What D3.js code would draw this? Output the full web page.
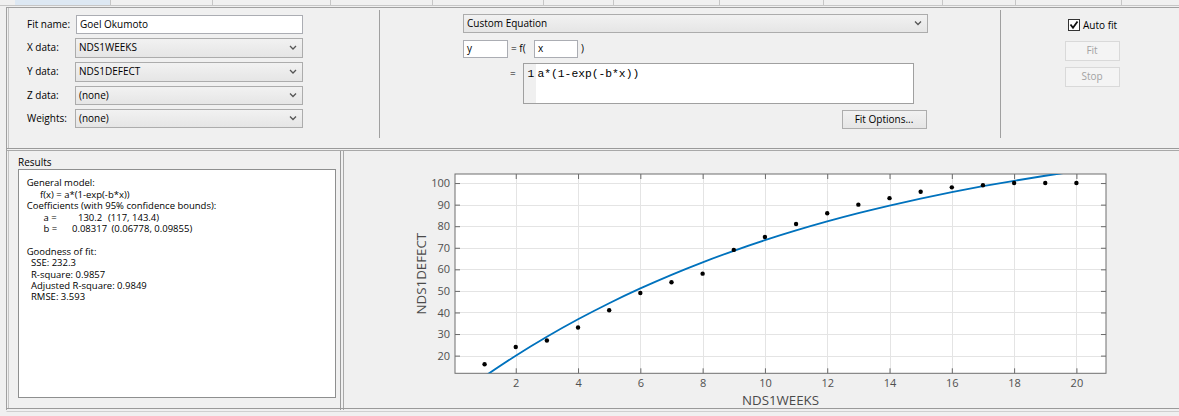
<!DOCTYPE html>
<html><head><meta charset="utf-8">
<script src="https://cdn.jsdelivr.net/npm/d3@7"></script>
<style>
html,body{margin:0;padding:0;background:#f0f0f0;overflow:hidden}
svg{display:block}
text{font-family:"Open Sans","Noto Sans",sans-serif}
</style></head><body>
<svg id="c" width="1179" height="416"></svg>
<script>
// ---------------- data ----------------
const weeks = [1,2,3,4,5,6,7,8,9,10,11,12,13,14,15,16,17,18,19,20];
const defects = [16,24,27,33,41,49,54,58,69,75,81,86,90,93,96,98,99,100,100,100];
// fitted model a*(1-exp(-b*x)), a = 130.2, b = 0.08317, evaluated at each week
const fitValues = [10.39,19.95,28.75,36.84,44.29,51.15,57.46,63.26,68.60,73.52,78.04,82.21,86.04,89.56,92.81,95.79,98.54,101.06,103.39,105.53];
const xTickValues = [2,4,6,8,10,12,14,16,18,20];
const yTickValues = [20,30,40,50,60,70,80,90,100];
const xLabel = "NDS1WEEKS";
const yLabel = "NDS1DEFECT";
const formFields = ["Fit name:", "X data:", "Y data:", "Z data:", "Weights:"];
const formValues = ["Goel Okumoto", "NDS1WEEKS", "NDS1DEFECT", "(none)", "(none)"];
const equationText = "a*(1-exp(-b*x))";
const resultsText = [
  ["General model:", 0], ["f(x) = a*(1-exp(-b*x))", 1], ["Coefficients (with 95% confidence bounds):", 0],
  ["", 2], ["", 3], ["", -1], ["Goodness of fit:", 0], ["SSE: 232.3", 4], ["R-square: 0.9857", 4],
  ["Adjusted R-square: 0.9849", 4], ["RMSE: 3.593", 4]
];
const coefNames = ["a =", "b ="];
const coefValues = ["130.2", "0.08317"];
const coefBounds = ["(117, 143.4)", "(0.06778, 0.09855)"];

// ---------------- helpers ----------------
const svg = d3.select("#c");
svg.append("rect").attr("width",1179).attr("height",416).attr("fill","#f0f0f0");
function hl(x1,x2,yy,c){svg.append("line").attr("x1",x1).attr("x2",x2).attr("y1",yy).attr("y2",yy).attr("stroke",c).attr("stroke-width",1);}
function vl(xx,y1,y2,c){svg.append("line").attr("x1",xx).attr("x2",xx).attr("y1",y1).attr("y2",y2).attr("stroke",c).attr("stroke-width",1);}
function txt(xx,cy,s,size,col,anchor,fam){
  return svg.append("text").attr("x",xx).attr("y",cy+size*0.36).attr("font-size",size)
    .attr("fill",col||"#000").attr("text-anchor",anchor||"start")
    .style("font-family",fam||null).style("white-space","pre").text(s);
}
function textbox(x1,y1,x2,y2,s){
  svg.append("rect").attr("x",x1+0.5).attr("y",y1+0.5).attr("width",x2-x1).attr("height",y2-y1)
    .attr("fill","#fff").attr("stroke","#abadb3");
  if(s) txt(x1+4,(y1+y2)/2,s,10);
}
const grad = svg.append("defs").append("linearGradient").attr("id","dd").attr("x1",0).attr("x2",0).attr("y1",0).attr("y2",1);
grad.append("stop").attr("offset","0").attr("stop-color","#f2f2f2");
grad.append("stop").attr("offset","1").attr("stop-color","#e5e5e5");
function chevron(cx,cy){
  svg.append("path").attr("d",`M${cx-3},${cy-1.5} L${cx},${cy+1.5} L${cx+3},${cy-1.5}`)
    .attr("fill","none").attr("stroke","#555").attr("stroke-width",1.3);
}
function dropdown(x1,y1,x2,y2,s){
  svg.append("rect").attr("x",x1+0.5).attr("y",y1+0.5).attr("width",x2-x1).attr("height",y2-y1)
    .attr("fill","url(#dd)").attr("stroke","#acacac");
  txt(x1+4,(y1+y2)/2,s,10);
  chevron(x2-9,(y1+y2)/2);
}
function button(x1,y1,x2,y2,s,enabled){
  svg.append("rect").attr("x",x1+0.5).attr("y",y1+0.5).attr("width",x2-x1).attr("height",y2-y1)
    .attr("fill",enabled?"url(#dd)":"#f4f4f4").attr("stroke",enabled?"#adadad":"#d9d9d9");
  txt((x1+x2)/2,(y1+y2)/2,s,10,enabled?"#000":"#a3a3a3","middle");
}

// ---------------- window chrome ----------------
hl(0,1179,5.5,"#c6c6c6");
svg.append("rect").attr("x",15).attr("y",0).attr("width",95).attr("height",5).attr("fill","#dde8f3");
[110,212,330,432,543,613,719,823,942,1015,1121].forEach(v=>vl(v+0.5,0,5,"#c6c6c6"));
// top panel frame
hl(6.5,1179,7.5,"#a0a0a0");
vl(6.5,7,151,"#a0a0a0"); vl(8.5,8,149,"#c4c4c4");
hl(6.5,1179,148.5,"#9a9a9a"); hl(6.5,1179,150.5,"#a8a8a8");
vl(379.5,10,138,"#a0a0a0"); vl(1000.5,10,138,"#a0a0a0");

// ---------------- left form ----------------
const rowCenters = [24.5,47.5,71.5,95,118];
formFields.forEach((f,i)=>txt(27,rowCenters[i],f,10));
textbox(76,15,302,33,formValues[0]);
dropdown(75,38,302,57,formValues[1]);
dropdown(75,62,302,81,formValues[2]);
dropdown(75,86,302,104,formValues[3]);
dropdown(75,109,302,127,formValues[4]);

// ---------------- middle: equation ----------------
dropdown(463,14,927,32,"Custom Equation");
textbox(463,40,507,57,"y");
txt(511,48.5,"= f(",10);
textbox(534,40,577,57,"x");
txt(581,48.5,")",10);
txt(510,73,"=",10);
svg.append("rect").attr("x",523.5).attr("y",63.5).attr("width",390).attr("height",40).attr("fill","#fff").attr("stroke","#a0a0a0");
svg.append("rect").attr("x",524).attr("y",64).attr("width",12).attr("height",39).attr("fill","#f0f0f0");
txt(527.5,72.5,"1",11.3,"#000","start","'Liberation Mono','DejaVu Sans Mono',monospace");
txt(537.5,72.5,equationText,11.3,"#000","start","'Liberation Mono','DejaVu Sans Mono',monospace");
button(842,110,926,128,"Fit Options...",true);

// ---------------- right: auto fit ----------------
svg.append("rect").attr("x",1068.5).attr("y",19.5).attr("width",11).attr("height",11).attr("fill","#fff").attr("stroke","#333");
svg.append("path").attr("d","M1070.5,24.5 L1073,27.8 L1077.5,21.5").attr("fill","none").attr("stroke","#111").attr("stroke-width",1.8);
txt(1083,25,"Auto fit",10);
button(1065,41,1119,60,"Fit",false);
button(1065,67,1119,86,"Stop",false);

// ---------------- results panel ----------------
vl(6.5,151,410,"#a0a0a0"); vl(8.5,151,408,"#c4c4c4");
vl(340.5,151,410,"#9a9a9a"); vl(343.5,151,410,"#a8a8a8");
hl(6.5,1179,408.5,"#9a9a9a"); hl(6.5,1179,411.5,"#cfcfcf");
txt(18,162,"Results",10);
svg.append("rect").attr("x",18.5).attr("y",169.5).attr("width",317).attr("height",228).attr("fill","#fff").attr("stroke","#8e8f8f");
const rx = [26.7,40,0,0,31];
let ry = 183;
resultsText.forEach(([s,k])=>{
  if(k===2||k===3){
    const j=k-2;
    txt(43.5,ry,coefNames[j],9.5);
    txt(j===0?78:72,ry,coefValues[j],9.5);
    txt(j===0?108:111.5,ry,coefBounds[j],9.5);
  } else if(k>=0){
    txt(rx[k] || 26.7,ry,s,9.5);
  }
  ry += 11.4;
});

// ---------------- plot ----------------
const L=455, R=1106, T=174, B=373.3;
const x = d3.scaleLinear().domain([0.05,20.95]).range([L,R]);
const y = d3.scaleLinear().domain([11.8,104.2]).range([B,T]);
const g = svg.append("g");
g.append("rect").attr("x",L).attr("y",T).attr("width",R-L).attr("height",B-T).attr("fill","#fff");
g.append("clipPath").attr("id","clip").append("rect").attr("x",L).attr("y",T).attr("width",R-L).attr("height",B-T);
g.selectAll(".gx").data(xTickValues).join("line").attr("x1",d=>Math.round(x(d))+0.5).attr("x2",d=>Math.round(x(d))+0.5)
  .attr("y1",T).attr("y2",B).attr("stroke","#e4e4e4");
g.selectAll(".gy").data(yTickValues).join("line").attr("y1",d=>Math.round(y(d))+0.5).attr("y2",d=>Math.round(y(d))+0.5)
  .attr("x1",L).attr("x2",R).attr("stroke","#e4e4e4");

function styleAxis(sel,labels){
  sel.select(".domain").remove();
  sel.selectAll(".tick line").attr("stroke","#6a6a6a");
  sel.selectAll(".tick text").attr("fill","#4f4f4f").attr("font-size",11)
    .style("font-family","'Open Sans','Noto Sans',sans-serif");
  if(!labels) sel.selectAll(".tick text").remove();
}
g.append("g").attr("transform",`translate(0,${B})`)
  .call(d3.axisBottom(x).tickValues(xTickValues).tickSizeInner(-5).tickSizeOuter(0).tickPadding(6)).call(s=>styleAxis(s,true));
g.append("g").attr("transform",`translate(0,${T})`)
  .call(d3.axisTop(x).tickValues(xTickValues).tickSizeInner(-5).tickSizeOuter(0)).call(s=>styleAxis(s,false));
g.append("g").attr("transform",`translate(${L},0)`)
  .call(d3.axisLeft(y).tickValues(yTickValues).tickSizeInner(-5).tickSizeOuter(0).tickPadding(5)).call(s=>styleAxis(s,true));
g.append("g").attr("transform",`translate(${R},0)`)
  .call(d3.axisRight(y).tickValues(yTickValues).tickSizeInner(-5).tickSizeOuter(0)).call(s=>styleAxis(s,false));
g.append("rect").attr("x",L).attr("y",T).attr("width",R-L).attr("height",B-T).attr("fill","none").attr("stroke","#6e6e6e");

const line = d3.line().x((d,i)=>x(weeks[i])).y(d=>y(d)).curve(d3.curveNatural);
g.append("path").datum(fitValues).attr("d",line).attr("clip-path","url(#clip)")
  .attr("fill","none").attr("stroke","#0072BD").attr("stroke-width",1.8);
g.selectAll(".pt").data(defects).join("circle").attr("cx",(d,i)=>x(weeks[i])).attr("cy",d=>y(d))
  .attr("r",2.2).attr("fill","#000");

g.append("text").attr("x",(L+R)/2).attr("y",405).attr("text-anchor","middle").attr("font-size",13.3)
  .attr("fill","#4a4a4a").text(xLabel);
g.append("text").attr("transform",`translate(426,${(T+B)/2}) rotate(-90)`).attr("text-anchor","middle")
  .attr("font-size",13.3).attr("fill","#4a4a4a").text(yLabel);
</script>
</body></html>
